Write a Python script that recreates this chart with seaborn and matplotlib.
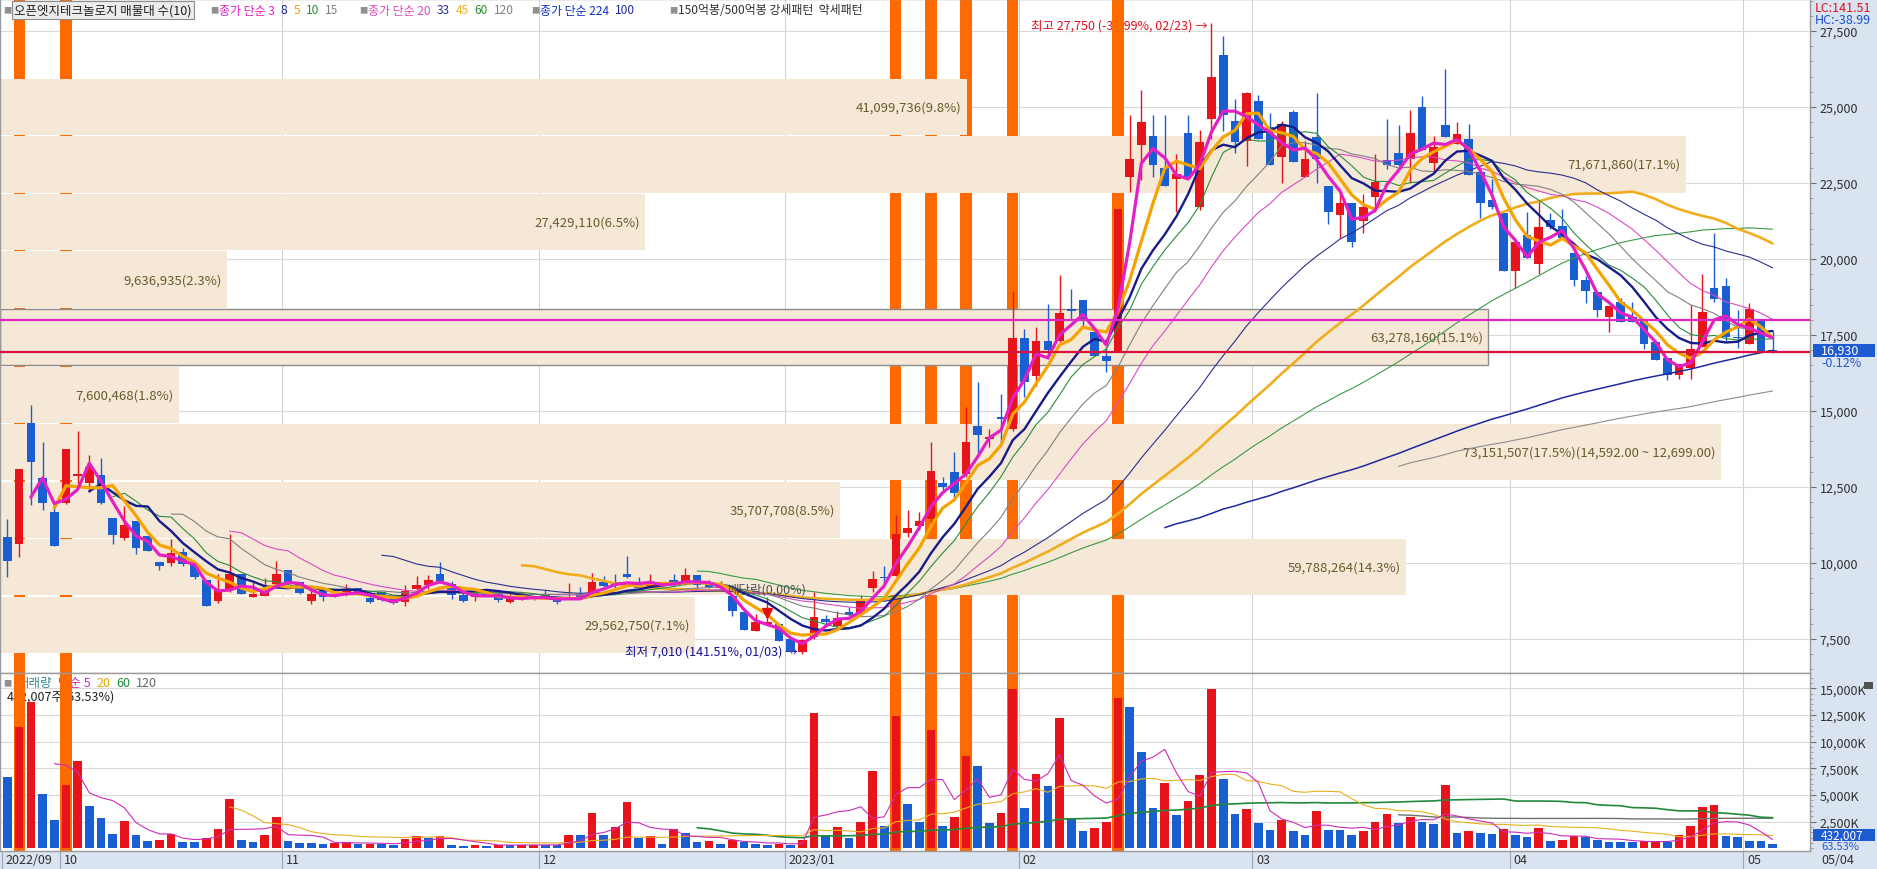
import numpy as np
import pandas as pd
import matplotlib
matplotlib.use("Agg")
import matplotlib.pyplot as plt
import seaborn as sns
from matplotlib.patches import Rectangle
from matplotlib.lines import Line2D
from matplotlib.ticker import MultipleLocator, FuncFormatter
import matplotlib.transforms as mtrans

# ------------------------------------------------------------------ data
opens = [
    10850, 10630, 14600, 12790, 11670, 11990, 12870, 12630, 12900, 11480,
    10810, 11390, 10880, 10020, 10000, 10350, 9970, 9450, 8760, 9150,
    9640, 8870, 8930, 9310, 9780, 9370, 8760, 9120, 8980, 8950,
    9170, 8840, 9040, 8840, 8730, 9150, 9260, 9630, 9310, 8950,
    8890, 9120, 8980, 8730, 8800, 8800, 8980, 8890, 8820, 8980,
    8930, 9390, 9370, 9640, 9370, 9230, 9310, 9440, 9310, 9610,
    9340, 9260, 8930, 8380, 7770, 8000, 7990, 7500, 7060, 7560,
    8160, 7940, 8380, 8320, 9170, 9530, 9580, 10990, 11230, 11450,
    12620, 12980, 12930, 14520, 14080, 14790, 14410, 17400, 16160, 17320,
    17320, 18360, 18650, 17590, 16820, 16930, 22700, 23750, 24050, 23000,
    22650, 24150, 21700, 24600, 26700, 24550, 23900, 25200, 24350, 23350,
    24850, 22700, 24000, 22400, 21450, 21850, 21250, 22050, 23250, 23500,
    23300, 25000, 23150, 24400, 23800, 23950, 22850, 21950, 21500, 19600,
    20800, 19850, 21300, 21100, 20200, 19300, 18930, 18080, 18580, 18110,
    17950, 17260, 16760, 16170, 16410, 17100, 19040, 19100, 17450, 17200,
    17950, 17000]
highs = [
    11450, 13090, 15200, 13990, 11940, 13750, 14350, 13550, 13440, 11480,
    11870, 11390, 10880, 10020, 10790, 10480, 9970, 9450, 9640, 10960,
    9640, 9370, 9500, 10080, 9780, 9370, 9230, 9200, 9040, 9310,
    9170, 9040, 9040, 8940, 9280, 9580, 9620, 10020, 9400, 9040,
    9150, 9160, 9090, 9040, 9040, 8900, 9120, 8890, 9340, 9210,
    9670, 9580, 9630, 10220, 9530, 9640, 9330, 9630, 9830, 9610,
    9440, 9420, 8930, 8380, 8320, 8870, 7990, 7500, 7500, 9060,
    8280, 8430, 8540, 8950, 9750, 9910, 11580, 11750, 11670, 13970,
    12820, 13640, 15120, 15950, 14420, 15560, 18960, 17700, 17750, 18520,
    19490, 19020, 18650, 17590, 17100, 21650, 24750, 25550, 24750, 24750,
    23450, 24750, 24250, 27750, 27350, 25250, 25500, 25400, 24800, 24550,
    24900, 23900, 25450, 22400, 22250, 21850, 22150, 23450, 24600, 24400,
    24900, 25350, 24050, 26250, 24500, 24450, 22850, 22650, 21500, 20550,
    21550, 21950, 21500, 21650, 20200, 19450, 18930, 18440, 18730, 18580,
    17950, 17260, 16760, 16540, 18490, 19510, 20850, 19390, 18330, 18550,
    18010, 17640]
lows = [
    9530, 10190, 11910, 11750, 10570, 11940, 12600, 12330, 11940, 10630,
    10770, 10300, 10400, 9780, 9910, 9910, 9470, 8570, 8680, 9040,
    8980, 8870, 8930, 9280, 9340, 8980, 8650, 8760, 8870, 8930,
    8950, 8680, 8760, 8650, 8580, 9100, 9150, 9350, 8820, 8720,
    8760, 8930, 8730, 8700, 8770, 8770, 8810, 8650, 8820, 8810,
    8900, 9200, 9140, 9500, 9150, 9170, 9250, 9230, 9280, 9170,
    9170, 9140, 8250, 7780, 7770, 7960, 7450, 7040, 7010, 7500,
    7930, 7900, 8270, 8290, 9040, 9310, 9580, 10850, 11100, 11350,
    12400, 12150, 12820, 13480, 13810, 13970, 14350, 15450, 15810, 16710,
    17260, 18030, 17750, 16820, 16270, 16930, 22200, 22600, 22700, 22400,
    21550, 22700, 21600, 23950, 24200, 23500, 23050, 23950, 23100, 22500,
    23200, 22700, 22500, 21150, 20700, 20400, 20850, 21550, 22950, 23050,
    22500, 23600, 22850, 24000, 23800, 22750, 21350, 21650, 19600, 19050,
    20050, 19500, 21000, 20700, 19100, 18550, 18100, 17610, 17920, 17920,
    17050, 16680, 16020, 16060, 16060, 17100, 18580, 17310, 17070, 17200,
    16950, 16910]
closes = [
    10080, 13090, 13330, 11970, 10570, 13750, 12940, 13150, 11970, 10930,
    11250, 10480, 10410, 9910, 10320, 9970, 9550, 8580, 9110, 9640,
    8980, 8980, 9090, 9640, 9340, 9010, 8980, 8870, 8930, 9150,
    8980, 8710, 8780, 8680, 9090, 9260, 9450, 9420, 8950, 8760,
    9060, 8930, 8780, 8840, 8870, 8870, 8840, 8730, 8890, 8840,
    9370, 9230, 9280, 9530, 9170, 9390, 9280, 9260, 9610, 9260,
    9200, 9170, 8430, 7810, 8070, 8040, 7450, 7100, 7480, 8210,
    8070, 8180, 8290, 8760, 9470, 9510, 10960, 11140, 11390, 13040,
    12510, 12300, 13970, 14220, 14160, 14740, 17400, 15950, 17290, 17010,
    18210, 18280, 18030, 16820, 16660, 21650, 23300, 24500, 23100, 22400,
    22800, 22700, 23850, 26000, 24750, 23850, 25450, 23950, 23100, 24450,
    23200, 23300, 23300, 21550, 21850, 20550, 21700, 22550, 23100, 23100,
    24150, 23600, 23700, 24000, 24100, 22750, 21850, 21700, 19600, 20550,
    20050, 21050, 21050, 20700, 19300, 18950, 18330, 18440, 17920, 17920,
    17210, 16680, 16170, 16540, 17050, 18250, 18690, 17450, 17400, 18350,
    16950, 16930]
volumes_k = [
    6719, 11406, 13750, 5094, 2688, 5969, 8219, 4000, 2813, 1344,
    2594, 1281, 719, 760, 1344, 625, 600, 1000, 1844, 4656,
    781, 625, 1281, 2969, 719, 531, 520, 438, 469, 625,
    406, 420, 400, 281, 906, 1188, 938, 1188, 344, 250,
    344, 250, 313, 300, 313, 330, 300, 281, 1281, 1250,
    3344, 1219, 2031, 4375, 938, 1188, 438, 1844, 1438, 625,
    719, 438, 781, 594, 375, 281, 438, 344, 781, 12719,
    1281, 1969, 938, 2500, 7281, 2063, 12375, 4188, 2469, 11094,
    2094, 2969, 8656, 7719, 2406, 3344, 14969, 3813, 6938, 5844,
    12250, 2875, 1625, 1938, 2469, 14125, 13250, 9063, 3813, 6125,
    3125, 4438, 6875, 14969, 6500, 3250, 3719, 2375, 1719, 2688,
    1625, 1250, 3500, 1719, 1700, 1250, 1625, 2469, 3188, 2375,
    2969, 2469, 2313, 5938, 1438, 1625, 1438, 1375, 1813, 1281,
    1094, 1938, 719, 750, 1188, 1031, 813, 594, 594, 580,
    650, 700, 594, 1250, 2094, 3875, 4063, 1188, 1094, 688,
    680, 432]

month_labels = ["2022/09", "10", "11", "12", "2023/01", "02", "03", "04", "05"]
month_first_idx = [0, 5, 24, 46, 67, 87, 107, 129, 149]

band_edges = [7020, 8913, 10806, 12699, 14592, 16485, 18378, 20271, 22164, 24057, 25950]
band_volumes = [29562750, 59788264, 35707708, 73151507, 7600468,
                63278160, 9636935, 27429110, 71671860, 41099736]
band_pcts = [7.1, 14.3, 8.5, 17.5, 1.8, 15.1, 2.3, 6.5, 17.1, 9.8]
band_current = 5
band_max = 3

pattern_idx = [1, 5, 76, 79, 82, 86, 95]
dividend_idx = 65
high_idx, high_val, high_date, high_pct = 103, 27750, "02/23", -38.99
low_idx, low_val, low_date, low_pct = 68, 7010, "01/03", 141.51
magenta_level = 17990
last_price = 16930
last_change_pct = -0.12
last_volume = 432007
last_volume_pct = 63.53
last_date = "05/04"

price_ticks = [7500, 10000, 12500, 15000, 17500, 20000, 22500, 25000, 27500]
vol_ticks_k = [2500, 5000, 7500, 10000, 12500, 15000]

price_ma = {  # period: (color, linewidth)
    120: ("#8c8c8c", 0.8), 100: ("#1e2a9e", 1.1), 60: ("#3a9a46", 0.8),
    45: ("#f0ae1e", 1.9), 33: ("#2a2f8e", 0.8), 20: ("#d94bc4", 0.8),
    15: ("#808080", 0.8), 10: ("#2a8c3c", 0.8), 8: ("#161c8a", 1.7),
    5: ("#f5a300", 2.3), 3: ("#e41fc4", 2.3)}
vol_ma = {120: ("#707070", 1.0), 60: ("#23883a", 1.2),
          20: ("#e8b020", 0.8), 5: ("#cf2ab8", 0.8)}

# ------------------------------------------------------------------ style
sns.set_theme(style="white")
plt.rcParams["font.family"] = ["Noto Sans CJK KR", "DejaVu Sans"]
plt.rcParams["axes.unicode_minus"] = False

RED = "#e8141c"
BLUE = "#1a5fd2"
ORANGE = "#ff6a00"
BAND = "#f5e8d6"
BAND_TXT = "#6b5a2e"
STRIP = "#dae4f0"

W, H = 1877, 870
fig = plt.figure(figsize=(W / 100, H / 100), dpi=100)


def fx(px):
    return px / W


def fy(py):
    return 1 - py / H


PLOT_R, PRICE_BOT, VOL_BOT = 1810, 674, 852
ax = fig.add_axes([0, fy(PRICE_BOT), fx(PLOT_R), 1 - fy(PRICE_BOT)])
axv = fig.add_axes([0, fy(VOL_BOT), fx(PLOT_R), fy(PRICE_BOT) - fy(VOL_BOT)])

fig.add_artist(Rectangle((fx(PLOT_R), 0), 1 - fx(PLOT_R), 1, transform=fig.transFigure,
                         fc=STRIP, ec="none", zorder=-5))
fig.add_artist(Rectangle((0, 0), 1, fy(VOL_BOT), transform=fig.transFigure,
                         fc=STRIP, ec="none", zorder=-5))

n = len(closes)
x = np.arange(n)
XL = (-0.64, 154.2)
o, h, l, c = (np.array(a, float) for a in (opens, highs, lows, closes))

# ------------------------------------------------------------------ price panel
ax.set_xlim(XL)
ax.set_ylim(6381, 28556)
ax.set_axisbelow(True)
ax.grid(True, axis="y", which="major", color="#dadada", lw=0.8)
for idx in month_first_idx[1:]:
    ax.axvline(idx - 0.5, color="#d2d2d2", lw=0.8, zorder=0.5)
    axv.axvline(idx - 0.5, color="#d2d2d2", lw=0.8, zorder=0.5)

# pattern (orange) bars
for i in pattern_idx:
    ax.axvspan(i - 0.48, i + 0.48, color=ORANGE, lw=0, zorder=0.8)
    axv.axvspan(i - 0.48, i + 0.48, color=ORANGE, lw=0, zorder=0.8)

# volume-profile bands
vmax = max(band_volumes)
full_len = 147.2
for k in range(len(band_volumes)):
    lo, hi = band_edges[k], band_edges[k + 1]
    wd = band_volumes[k] / vmax * full_len
    ax.add_patch(Rectangle((XL[0], lo + 22), wd, hi - lo - 44, fc=BAND,
                           ec=("#8c8c8c" if k == band_current else "none"), lw=1.0, zorder=1.0))
    lab = f"{band_volumes[k]:,}({band_pcts[k]}%)"
    if k == band_max:
        lab += f"({band_edges[k + 1]:,.2f} ~ {band_edges[k]:,.2f})"
    ax.text(XL[0] + wd - 0.45, (lo + hi) / 2, lab, ha="right", va="center",
            fontsize=9.5, color=BAND_TXT, zorder=1.5)

# candles
up = c >= o
col = np.where(up, RED, BLUE)
ax.vlines(x, l, h, colors=col, lw=1.0, zorder=4)
ax.bar(x, np.maximum(np.abs(c - o), 45), bottom=np.minimum(o, c), width=0.74,
       color=col, lw=0, zorder=4.1)

# moving averages
cs = pd.Series(c)
for p, (clr, lw) in price_ma.items():
    df = pd.DataFrame({"x": x, "y": cs.rolling(p).mean()}).dropna()
    sns.lineplot(data=df, x="x", y="y", ax=ax, color=clr, lw=lw,
                 estimator=None, legend=False, zorder=5)

ax.axhline(magenta_level, color="#e025c8", lw=1.6, zorder=6)
ax.axhline(last_price, color="#dc103c", lw=1.6, zorder=6)

# annotations
ax.text(high_idx - 0.35, high_val - 60, f"최고 {high_val:,} ({high_pct:.2f}%, {high_date}) →",
        color="#e0101e", ha="right", va="center", fontsize=9, zorder=0.7)
ax.text(low_idx - 0.4, low_val + 110, f"최저 {low_val:,} ({low_pct:.2f}%, {low_date}) →",
        color="#10109a", ha="right", va="center", fontsize=9, zorder=3)
ax.text(dividend_idx, 9150, "배당락(0.00%)", ha="center", va="center",
        fontsize=9, color="#505050", zorder=5.5)
ax.plot([dividend_idx], [8350], marker="v", color="#e01010", ms=7, ls="none", zorder=6)

# ------------------------------------------------------------------ volume panel
v = np.array(volumes_k, float)
vcol = [BLUE] + [RED if v[i] > v[i - 1] else BLUE for i in range(1, n)]
axv.set_xlim(XL)
axv.set_ylim(-260, 16430)
axv.set_axisbelow(True)
axv.grid(True, axis="y", which="major", color="#dadada", lw=0.8)
axv.bar(x, v, width=0.74, color=vcol, lw=0, zorder=2)
vs = pd.Series(v)
for p, (clr, lw) in vol_ma.items():
    df = pd.DataFrame({"x": x, "y": vs.rolling(p).mean()}).dropna()
    sns.lineplot(data=df, x="x", y="y", ax=axv, color=clr, lw=lw,
                 estimator=None, legend=False, zorder=3)

# ------------------------------------------------------------------ axes cosmetics
for a in (ax, axv):
    a.set_xlabel("")
    a.set_ylabel("")
    a.tick_params(axis="x", which="both", bottom=False, top=False, labelbottom=False)
    a.yaxis.tick_right()
    a.tick_params(axis="y", which="major", direction="out", length=4, width=0.8,
                  color="#707070", labelsize=9, labelcolor="#303030", pad=3)
    a.tick_params(axis="y", which="minor", direction="out", length=2, width=0.6, color="#909090")
    for s in a.spines.values():
        s.set_color("#9a9a9a")
        s.set_linewidth(1)
ax.set_yticks(price_ticks)
ax.yaxis.set_minor_locator(MultipleLocator(500))
ax.yaxis.set_major_formatter(FuncFormatter(lambda val, pos: f"{val:,.0f}"))
axv.set_yticks(vol_ticks_k)
axv.yaxis.set_minor_locator(MultipleLocator(500))
axv.yaxis.set_major_formatter(FuncFormatter(lambda val, pos: f"{val:,.0f}K"))

# date strip
bt = mtrans.blended_transform_factory(axv.transData, fig.transFigure)
for lab, idx in zip(month_labels, month_first_idx):
    xp = idx - 0.5
    fig.add_artist(Line2D([xp, xp], [0, fy(VOL_BOT)], transform=bt, color="#9aa6b4", lw=0.8))
    fig.text(xp + 0.3, fy(861), lab, transform=bt, fontsize=9, va="center", ha="left", color="#303030")
fig.text(fx(1821), fy(861), last_date, fontsize=9, va="center", ha="left", color="#303030")

# right strip labels
fig.text(fx(1815), fy(8), f"LC:{low_pct:.2f}", fontsize=9, color="#e0101e", va="center",
         bbox=dict(boxstyle="square,pad=0.05", fc=STRIP, ec="none"))
fig.text(fx(1815), fy(20), f"HC:{high_pct:.2f}", fontsize=9, color="#1a50d0", va="center",
         bbox=dict(boxstyle="square,pad=0.05", fc=STRIP, ec="none"))
fig.add_artist(Rectangle((fx(1813), fy(358)), fx(62), 13 / H, transform=fig.transFigure,
                         fc="#1f5bd0", ec="none", zorder=4))
fig.text(fx(1821), fy(351.5), f"{last_price:,}", fontsize=9, color="white", va="center", zorder=5)
fig.text(fx(1821), fy(364), f"{last_change_pct:.2f}%", fontsize=9, color="#1f5bd0", va="center")
fig.add_artist(Rectangle((fx(1813), fy(842)), fx(62), 12 / H, transform=fig.transFigure,
                         fc="#1f5bd0", ec="none", zorder=4))
fig.text(fx(1821), fy(836), f"{last_volume:,}", fontsize=8.5, color="white", va="center", zorder=5)
fig.text(fx(1821), fy(847.5), f"{last_volume_pct:.2f}%", fontsize=8, color="#1f5bd0", va="center")
fig.add_artist(Rectangle((fx(1864), fy(690)), fx(9), 7 / H, transform=fig.transFigure,
                         fc="#505050", ec="none", zorder=4))

# ------------------------------------------------------------------ legends (laid out piece by piece)
fig.canvas.draw()
renderer = fig.canvas.get_renderer()


def seq_text(start_px, y_fig, pieces, size, gap, host=None, zorder=3):
    cur = start_px
    for s, clr in pieces:
        if host is None:
            t = fig.text(fx(cur), y_fig, s, fontsize=size, color=clr, va="center", zorder=zorder)
        else:
            t = host.text(fx(cur), y_fig, s, transform=fig.transFigure, fontsize=size,
                          color=clr, va="center", zorder=zorder)
        cur = t.get_window_extent(renderer).x1 + gap
    return cur


ly = fy(11)
fig.text(fx(14), ly, "오픈엣지테크놀로지 매물대 수(10)", fontsize=9, color="#202020", va="center",
         bbox=dict(boxstyle="square,pad=0.18", fc="#ececec", ec="#8c8c8c", lw=0.8))
fig.text(fx(3), ly, "■", fontsize=6, color="#909090", va="center")
groups = [
    (210, [("종가 단순 3", "#e41fc4"), ("8", "#161c8a"), ("5", "#f0a000"),
           ("10", "#2a8c3c"), ("15", "#808080")]),
    (359, [("종가 단순 20", "#d94bc4"), ("33", "#2a2f8e"), ("45", "#f0ae1e"),
           ("60", "#2a8c3c"), ("120", "#808080")]),
    (531, [("종가 단순 224", "#1030c0"), ("100", "#1e2a9e")]),
    (669, [("150억봉/500억봉 강세패턴  약세패턴", "#303030")]),
]
cur = 0
for start, pieces in groups:
    sq = max(start, cur + 4)
    fig.text(fx(sq), ly, "■", fontsize=6, color="#909090", va="center")
    cur = seq_text(sq + 9, ly, pieces, 8.6, 6)

# volume legend (under the orange bars)
ty = fy(684)
axv.text(fx(3), ty, "■", transform=fig.transFigure, fontsize=6, color="#909090", va="center", zorder=0.6)
seq_text(17, ty, [("거래량", "#3c8c8c"), ("단순 5", "#cf2ab8"), ("20", "#e0a800"),
                  ("60", "#1f8a3a"), ("120", "#666666")], 9, 6, host=axv, zorder=0.6)
axv.text(fx(7), fy(697), f"{last_volume:,}주({last_volume_pct:.2f}%)", transform=fig.transFigure,
         fontsize=9, color="#222222", va="center", zorder=0.6)

fig.savefig("out.png", dpi=100)
